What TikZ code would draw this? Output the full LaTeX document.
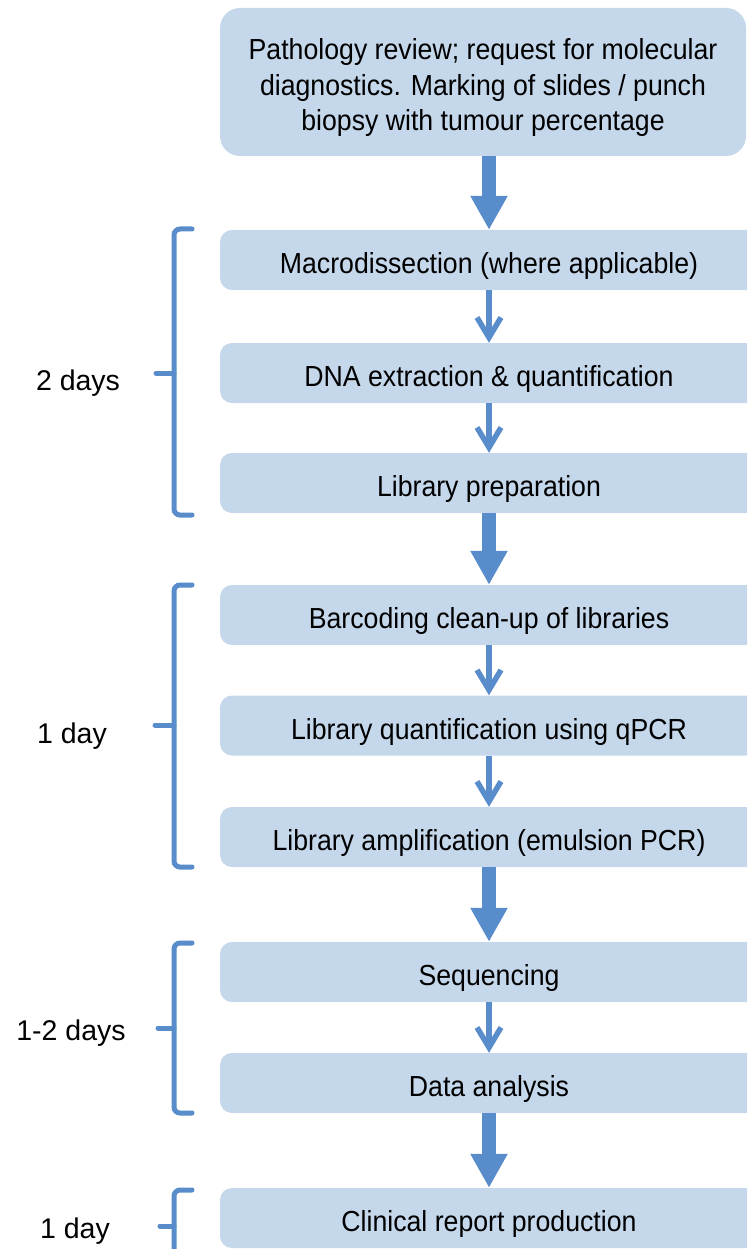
\documentclass[tikz,border=0pt]{standalone}
\usepackage{fontspec}
\setmainfont{Liberation Sans}[FakeStretch=0.92]
\newfontfamily\spanfont{Liberation Sans}
\usetikzlibrary{arrows.meta,calc}
\definecolor{boxfill}{RGB}{197,215,234}
\definecolor{flowblue}{RGB}{89,140,202}
\begin{document}
\begin{tikzpicture}[x=1pt,y=-1pt,
  stepbox/.style={fill=boxfill, rounded corners=12pt, minimum width=538pt,
    minimum height=60pt, inner sep=0pt, text height=27pt, text depth=0pt,
    font=\fontsize{29}{35.5}\selectfont},
  bigarrow/.style={draw=flowblue, fill=flowblue, line width=14pt,
    -{Triangle[width=35pt,length=34pt]}},
  smallarrow/.style={draw=flowblue, line width=5.5pt,
    -{Straight Barb[width=24pt,length=20pt]}},
  bracket/.style={draw=flowblue, line width=5pt, line cap=round, rounded corners=6pt},
  span/.style={font=\spanfont\fontsize{28.5}{32}\selectfont, inner sep=0pt, anchor=base}
]
\useasboundingbox (0,0) rectangle (747,1249);
\clip (0,0) rectangle (747,1249);

% process steps
\node[stepbox, minimum width=526pt, minimum height=148pt, rounded corners=20pt,
      text height=, text depth=, align=center] (review) at (483,82)
  {\rule{0pt}{33pt}Pathology review; request for molecular\\diagnostics. Marking of slides / punch\\biopsy with tumour percentage};
\node[stepbox] (macro) at (489,260)  {Macrodissection (where applicable)};
\node[stepbox] (dna)   at (489,373)  {DNA extraction \& quantification};
\node[stepbox] (prep)  at (489,483)  {Library preparation};
\node[stepbox] (bar)   at (489,615)  {Barcoding clean-up of libraries};
\node[stepbox] (quant) at (489,725.5){Library quantification using qPCR};
\node[stepbox] (amp)   at (489,837)  {Library amplification (emulsion PCR)};
\node[stepbox] (seq)   at (489,972)  {Sequencing};
\node[stepbox] (data)  at (489,1083) {Data analysis};
\node[stepbox] (rep)   at (489,1218) {Clinical report production};

% arrows between phases
\draw[bigarrow] (review.south -| macro.north) -- (macro.north);
\draw[bigarrow] (prep.south) -- (bar.north);
\draw[bigarrow] (amp.south) -- (seq.north);
\draw[bigarrow] (data.south) -- (rep.north);

% arrows within a phase
\draw[smallarrow] (macro.south) -- (dna.north);
\draw[smallarrow] (dna.south) -- (prep.north);
\draw[smallarrow] (bar.south) -- (quant.north);
\draw[smallarrow] (quant.south) -- (amp.north);
\draw[smallarrow] (seq.south) -- (data.north);

% brackets with durations
\draw[bracket] (192,229) -- (174,229) -- (174,515) -- (192,515);
\draw[bracket] (174,373) -- (156,373);
\node[span] (t1) at (78,390) {2 days};

\draw[bracket] (192,585) -- (174,585) -- (174,867) -- (192,867);
\draw[bracket] (174,725) -- (155,725);
\node[span] (t2) at (72,743) {1 day};

\draw[bracket] (192,943) -- (174,943) -- (174,1113) -- (192,1113);
\draw[bracket] (174,1028) -- (158,1028);
\node[span] (t3) at (71,1040) {1-2 days};

\draw[bracket] (192,1190) -- (174,1190) -- (174,1262);
\draw[bracket] (174,1226) -- (160,1226);
\node[span] (t4) at (75,1238) {1 day};
\end{tikzpicture}
\end{document}
